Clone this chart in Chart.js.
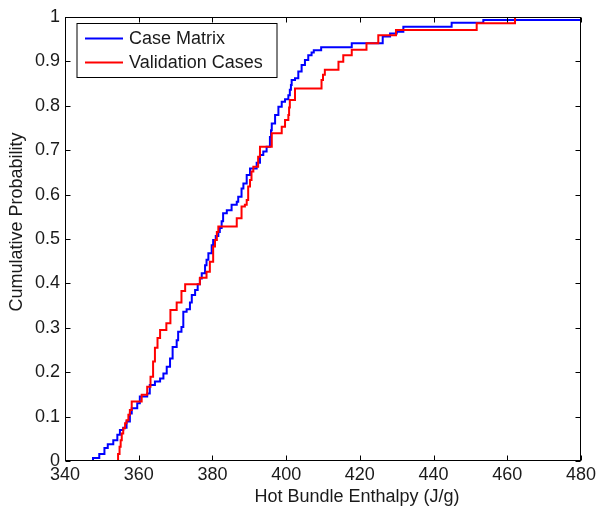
<!DOCTYPE html>
<html>
<head>
<meta charset="utf-8">
<script src="https://cdn.jsdelivr.net/npm/chart.js@4.4.1/dist/chart.umd.min.js"></script>
<style>
body { margin: 0; background: #fff; }
</style>
</head>
<body>
<canvas id="myChart" width="597" height="515"></canvas>
<script>
let caseX = [347.6, 347.6, 349.3, 350.7, 351.6, 353.1, 354.2, 354.9, 355.8, 356.7, 357.6, 358.1, 359.6, 360.3, 362.3,
    363.0, 364.4, 365.8, 366.7, 367.6, 368.5, 369.2, 370.3, 370.7, 371.6, 372.1, 373.0, 373.9, 374.4, 375.3,
    376.0, 376.6, 377.1, 378.0, 378.4, 378.9, 379.8, 380.2, 380.9, 381.6, 382.0, 382.5, 382.9, 383.9, 385.2,
    386.6, 387.0, 387.9, 388.4, 389.3, 390.2, 392.0, 392.9, 393.8, 394.7, 395.6, 395.9, 396.1, 397.0, 397.9,
    398.8, 399.7, 400.6, 401.0, 401.3, 401.5, 402.4, 403.3, 404.2, 405.1, 406.0, 406.9, 407.5, 409.5, 417.8,
    426.2, 428.2, 430.0, 431.8, 444.9, 453.5, 480];
let caseP = [0, 0.007, 0.016, 0.029, 0.038, 0.047, 0.059, 0.070, 0.075, 0.089, 0.107, 0.119, 0.130, 0.145, 0.152,
    0.171, 0.179, 0.186, 0.197, 0.212, 0.231, 0.257, 0.272, 0.291, 0.302, 0.336, 0.342, 0.357, 0.374, 0.385,
    0.398, 0.411, 0.423, 0.441, 0.453, 0.468, 0.486, 0.498, 0.507, 0.516, 0.525, 0.540, 0.558, 0.565, 0.577,
    0.584, 0.595, 0.614, 0.625, 0.644, 0.659, 0.672, 0.689, 0.697, 0.708, 0.730, 0.745, 0.760, 0.779, 0.798,
    0.809, 0.815, 0.824, 0.836, 0.847, 0.858, 0.862, 0.877, 0.892, 0.903, 0.914, 0.920, 0.925, 0.932, 0.941,
    0.956, 0.963, 0.967, 0.978, 0.987, 0.993, 0.993];

let valX = [354.4, 354.4, 354.8, 355.1, 355.4, 355.8, 356.3, 356.7, 357.2, 357.6, 358.1, 360.8, 362.3, 363.2, 363.9,
    364.4, 365.1, 365.8, 367.5, 368.6, 370.3, 371.6, 372.6, 376.6, 378.4, 379.3, 380.2, 380.7, 381.2, 381.6,
    386.6, 387.9, 388.8, 389.3, 389.7, 390.2, 390.6, 391.1, 392.4, 392.9, 396.1, 398.8, 399.7, 400.6, 400.8,
    401.0, 402.4, 409.6, 410.0, 410.5, 414.2, 415.5, 417.8, 421.8, 425.0, 429.8, 451.7, 462.1];
let valP = [0, 0.016, 0.032, 0.047, 0.062, 0.074, 0.085, 0.092, 0.104, 0.115, 0.134, 0.149, 0.167, 0.190, 0.224,
    0.255, 0.277, 0.295, 0.310, 0.340, 0.357, 0.383, 0.398, 0.413, 0.426, 0.449, 0.483, 0.498, 0.516, 0.528,
    0.547, 0.573, 0.577, 0.588, 0.618, 0.633, 0.652, 0.663, 0.685, 0.708, 0.738, 0.753, 0.768, 0.779, 0.796,
    0.813, 0.839, 0.858, 0.870, 0.881, 0.899, 0.914, 0.926, 0.941, 0.959, 0.971, 0.986, 1.0];

let xTicks = [340, 360, 380, 400, 420, 440, 460, 480];
let yTicks = [0, 0.1, 0.2, 0.3, 0.4, 0.5, 0.6, 0.7, 0.8, 0.9, 1];
let seriesNames = ['Case Matrix', 'Validation Cases'];
let xTitle = 'Hot Bundle Enthalpy (J/g)';
let yTitle = 'Cumulative Probability';

const FONT = '"Liberation Sans", Arial, Helvetica, sans-serif';
const INK = '#1a1a1a';

function toPoints(xs, ys) {
    return xs.map((x, i) => ({x: x, y: ys[i]}));
}

// box, inward ticks, legend and axis labels the matlab way
const matlabLook = {
    id: 'matlabLook',
    afterDraw(chart) {
        const ctx = chart.ctx;
        const a = chart.chartArea;
        const xs = chart.scales.x, ys = chart.scales.y;
        const L = Math.round(a.left) + 0.5, R = Math.round(a.right) - 0.5;
        const T = Math.round(a.top) + 0.5, B = Math.round(a.bottom) - 0.5;
        ctx.save();
        ctx.strokeStyle = '#000';
        ctx.lineWidth = 1;
        ctx.strokeRect(L, T, R - L, B - T);
        ctx.beginPath();
        xTicks.forEach(v => {
            const px = Math.round(xs.getPixelForValue(v)) + 0.5;
            ctx.moveTo(px, B); ctx.lineTo(px, B - 5);
            ctx.moveTo(px, T); ctx.lineTo(px, T + 5);
        });
        yTicks.forEach(v => {
            const py = Math.round(ys.getPixelForValue(v)) + 0.5;
            ctx.moveTo(L, py); ctx.lineTo(L + 5, py);
            ctx.moveTo(R, py); ctx.lineTo(R - 5, py);
        });
        ctx.stroke();

        // legend box
        const lx = L + 11.5, ly = T + 6, lw = 200, lh = 54;
        ctx.fillStyle = '#fff';
        ctx.fillRect(lx, ly, lw, lh);
        ctx.strokeRect(lx, ly, lw, lh);
        ctx.font = '18px ' + FONT;
        ctx.textBaseline = 'middle';
        ctx.textAlign = 'left';
        chart.data.datasets.forEach((ds, i) => {
            const yy = Math.round(ly + 14 + i * 24.5) + 0.5;
            ctx.strokeStyle = ds.borderColor;
            ctx.lineWidth = 2;
            ctx.beginPath();
            ctx.moveTo(lx + 8, yy); ctx.lineTo(lx + 46, yy);
            ctx.stroke();
            ctx.fillStyle = INK;
            ctx.fillText(ds.label, lx + 52, yy + 1);
        });

        // axis titles
        ctx.fillStyle = INK;
        ctx.textAlign = 'center';
        ctx.fillText(xTitle, 357, 497);
        ctx.translate(17, 222);
        ctx.rotate(-Math.PI / 2);
        ctx.fillText(yTitle, 0, 0);
        ctx.restore();
    }
};

Chart.defaults.font.family = FONT;
Chart.defaults.font.size = 18;
Chart.defaults.color = INK;

var ctx = document.getElementById('myChart').getContext('2d');
var myChart = new Chart(ctx, {
    type: 'line',
    data: {
        datasets: [{
            label: seriesNames[0],
            data: toPoints(caseX, caseP),
            borderColor: '#0000ff',
            borderWidth: 2,
            stepped: true,
            pointRadius: 0,
            order: 1
        }, {
            label: seriesNames[1],
            data: toPoints(valX, valP),
            borderColor: '#ff0000',
            borderWidth: 2,
            stepped: true,
            pointRadius: 0,
            order: 0
        }]
    },
    options: {
        responsive: false,
        animation: false,
        layout: { padding: { top: 17, right: 16, left: 0, bottom: 0 } },
        plugins: {
            legend: { display: false },
            tooltip: { enabled: false }
        },
        scales: {
            x: {
                type: 'linear',
                min: 340, max: 480,
                afterBuildTicks: s => { s.ticks = xTicks.map(v => ({value: v})); },
                ticks: { maxRotation: 0, padding: 3 },
                grid: { display: false, drawTicks: false },
                border: { display: false },
                afterFit: s => { s.height = 54; s.paddingLeft = 0; s.paddingRight = 0; }
            },
            y: {
                type: 'linear',
                min: 0, max: 1,
                afterBuildTicks: s => { s.ticks = yTicks.map(v => ({value: v})); },
                ticks: { padding: 5, callback: v => String(+v.toFixed(1)) },
                grid: { display: false, drawTicks: false },
                border: { display: false },
                afterFit: s => { s.width = 65; s.paddingTop = 0; s.paddingBottom = 0; }
            }
        }
    },
    plugins: [matlabLook]
});
</script>
</body>
</html>
